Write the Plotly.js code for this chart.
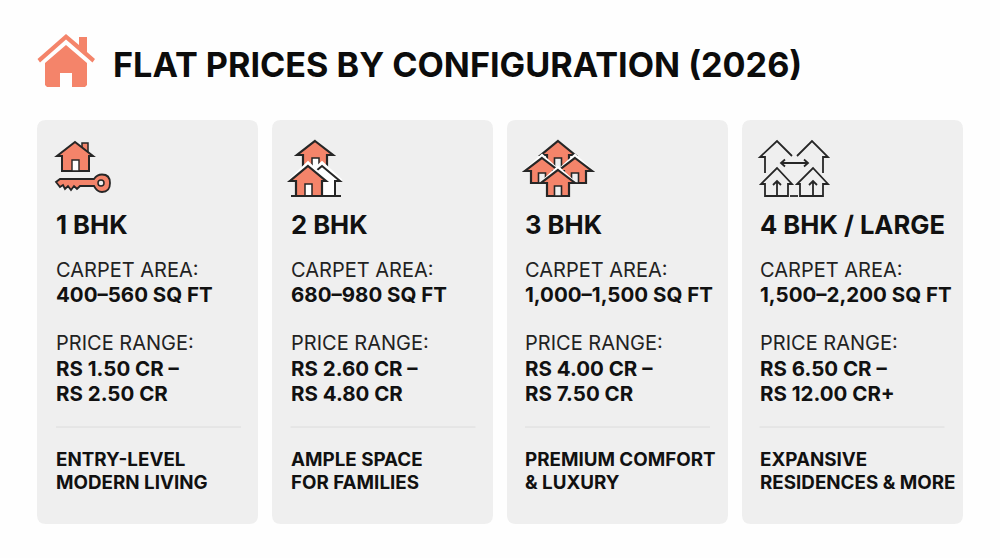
<!DOCTYPE html>
<html>
<head>
<meta charset="utf-8">
<script src="https://cdn.plot.ly/plotly-3.0.1.min.js"></script>
<style>html,body{margin:0;padding:0;background:#fefefe}#c{width:1000px;height:558px}</style>
</head>
<body>
<div id="c"></div>
<script>
const chartTitle = "FLAT PRICES BY CONFIGURATION (2026)";
const configs = ["1 BHK", "2 BHK", "3 BHK", "4 BHK / LARGE"];
const carpetLabel = "CARPET AREA:";
const priceLabel = "PRICE RANGE:";
const carpetAreas = ["400–560 SQ FT", "680–980 SQ FT", "1,000–1,500 SQ FT", "1,500–2,200 SQ FT"];
const priceLow = ["RS 1.50 CR –", "RS 2.60 CR –", "RS 4.00 CR –", "RS 6.50 CR –"];
const priceHigh = ["RS 2.50 CR", "RS 4.80 CR", "RS 7.50 CR", "RS 12.00 CR+"];
const noteLine1 = ["ENTRY-LEVEL", "AMPLE SPACE", "PREMIUM COMFORT", "EXPANSIVE"];
const noteLine2 = ["MODERN LIVING", "FOR FAMILIES", "& LUXURY", "RESIDENCES & MORE"];

const ORANGE = "#f4846a", INK = "#262626", TEXT = "#111111", CARD = "#efefef";
const FONT = "Inter, 'Noto Sans', sans-serif";
const cardX = [37, 272, 507, 742], textX = [56, 290.5, 525, 759.5], cardW = 221, cardTop = 120, cardBottom = 524;

const shapes = [], annotations = [];
function addPath(path, fill, color, width) {
  shapes.push({type: "path", xref: "x", yref: "y", path, fillcolor: fill || "rgba(0,0,0,0)",
    line: {color: color || "rgba(0,0,0,0)", width: width || 0}, layer: "above"});
}
function poly(pts, close) {
  return "M" + pts.map(p => p[0] + "," + p[1]).join(" L") + (close === false ? "" : " Z");
}
function rr(x0, y0, x1, y1, r) {
  return `M${x0 + r},${y0} L${x1 - r},${y0} Q${x1},${y0} ${x1},${y0 + r} L${x1},${y1 - r} Q${x1},${y1} ${x1 - r},${y1} L${x0 + r},${y1} Q${x0},${y1} ${x0},${y1 - r} L${x0},${y0 + r} Q${x0},${y0} ${x0 + r},${y0} Z`;
}
function house(cx, top, eaveY, halfRoof, left, right, bottom) {
  return poly([[cx, top], [cx + halfRoof, eaveY], [right, eaveY], [right, bottom], [left, bottom], [left, eaveY], [cx - halfRoof, eaveY]]);
}
function text(x, y, str, size, weight, color) {
  annotations.push({x, y, xref: "x", yref: "y", text: str, showarrow: false, xanchor: "left", yanchor: "middle",
    borderpad: 0, borderwidth: 0, font: {family: FONT, size, weight, color: color || TEXT}});
}

/* cards */
cardX.forEach((x, i) => {
  shapes.push({type: "path", xref: "x", yref: "y", path: rr(x, cardTop, x + cardW, cardBottom, 9), fillcolor: CARD, line: {width: 0}, layer: "below"});
  const t = textX[i];
  text(t, 224.5, configs[i], 25.6, 700);
  text(t, 270, carpetLabel, 20, 400, "#222222");
  text(t, 294.5, carpetAreas[i], 20.5, 700);
  text(t, 343, priceLabel, 20, 400, "#222222");
  text(t, 368.5, priceLow[i], 20.5, 700);
  text(t, 393.5, priceHigh[i], 20.5, 700);
  shapes.push({type: "line", xref: "x", yref: "y", x0: t, x1: t + 185, y0: 427, y1: 427, line: {color: "#dcdcdc", width: 1}, layer: "below"});
  text(t, 459, noteLine1[i], 18.8, 700);
  text(t, 482, noteLine2[i], 18.8, 700);
});

/* title */
text(112.5, 64, chartTitle, 34.2, 700, "#0c0c0c");

/* big title icon */
addPath(poly([[37.5, 59], [66, 34], [79, 45], [79, 37], [87, 37], [87, 52], [95, 59], [92.5, 62.5], [66, 39.5], [40, 62.5]]), ORANGE);
addPath(poly([[66, 45], [87, 63], [87, 85], [85, 87], [72, 87], [72, 73], [60, 73], [60, 87], [47, 87], [45, 85], [45, 63]]), ORANGE);

/* 1 BHK icon */
addPath(poly([[82, 143], [88, 143], [88, 153], [82, 153]]), ORANGE, INK, 1.5);
addPath(house(75, 142, 156, 18, 62, 89, 171), ORANGE, INK, 2);
addPath(poly([[72, 160], [79, 160], [79, 171], [72, 171]]), "#ffffff", INK, 1.4);
addPath("M94,179 L60,179 L56,182 L60,187 L63,185 L65,189 L68,186 L71,190 L74,186 L77,189 L80,186 L94,186 Q97,192 102,192 Q110,192 110,183 Q110,174.5 102,174.5 Q97,174.5 94,179 Z", ORANGE, INK, 1.8);
shapes.push({type: "circle", xref: "x", yref: "y", x0: 98, x1: 104, y0: 180, y1: 186, fillcolor: CARD, line: {color: INK, width: 1.5}, layer: "above"});

/* 2 BHK icon */
addPath(house(315, 141, 155, 18, 303, 327, 170), ORANGE, INK, 2.2);
addPath(poly([[312, 158], [319, 158], [319, 170], [312, 170]]), "#ffffff", INK, 1.5);
addPath("M303,181 L322,163.5 L341,181", null, "#ffffff", 4);
addPath(house(322, 166, 181, 18, 309, 335, 196), "#ffffff", INK, 2);
addPath("M290,181 L308,163.5 L326,181", null, "#ffffff", 4);
addPath(house(308, 166, 181, 18, 296, 322, 196), ORANGE, INK, 2.2);
addPath(poly([[305, 184], [312, 184], [312, 196], [305, 196]]), "#ffffff", INK, 1.5);
addPath("M291,196 L341,196", null, INK, 2.2);

/* 3 BHK icon */
[[558, 141, 155, 168], [542, 158, 171, 183], [575, 158, 171, 183], [558, 170, 183, 196]].forEach((h, i) => {
  const [cx, top, eave, bottom] = h, body = 11, hr = 17;
  if (i > 0) addPath(`M${cx - hr},${eave} L${cx},${top - 2.5} L${cx + hr},${eave}`, null, "#ffffff", 3);
  addPath(house(cx, top, eave, hr, cx - body, cx + body, bottom), ORANGE, INK, 2.2);
  addPath(poly([[cx - 3.5, bottom - 10], [cx + 3.5, bottom - 10], [cx + 3.5, bottom], [cx - 3.5, bottom]]), CARD, INK, 1.6);
});

/* 4 BHK icon */
const L = 1.8;
addPath("M765,173 L765,157 L760,157 L777,141 L792,156", null, INK, L);
addPath("M797,156 L812,141 L828,157 L823,157 L823,173", null, INK, L);
addPath("M781,163 L808,163 M785,159.5 L781,163 L785,166.5 M804,159.5 L808,163 L804,166.5", null, INK, L);
[[777, 765, 788], [813, 800, 823]].forEach(h => {
  const [cx, l, r] = h;
  addPath(`M${l},196 L${l},184 L${cx - 16},184 L${cx},168 L${cx + 15},184 L${r},184 L${r},196 Z`, null, INK, L);
  addPath(`M${cx},196 L${cx},181 M${cx - 4},185 L${cx},181 L${cx + 4},185`, null, INK, L);
});
addPath("M790,196 L798,196", null, INK, L);

const hidden = {visible: false, fixedrange: true, showgrid: false, zeroline: false};
Plotly.newPlot("c", [], {
  width: 1000, height: 558,
  margin: {l: 0, r: 0, t: 0, b: 0, pad: 0},
  paper_bgcolor: "#fefefe", plot_bgcolor: "#fefefe",
  showlegend: false,
  xaxis: Object.assign({range: [0, 1000]}, hidden),
  yaxis: Object.assign({range: [558, 0]}, hidden),
  shapes, annotations
}, {displayModeBar: false, staticPlot: true});
</script>
</body>
</html>
